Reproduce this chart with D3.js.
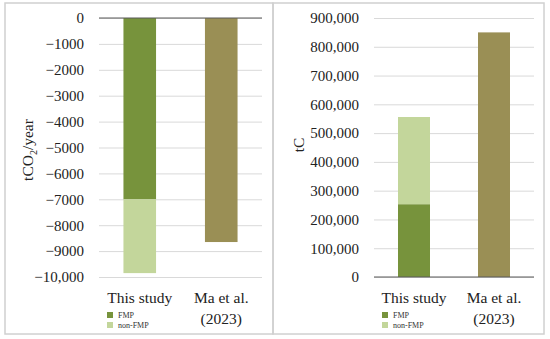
<!DOCTYPE html>
<html>
<head>
<meta charset="utf-8">
<script src="https://cdn.jsdelivr.net/npm/d3@7"></script>
<style>
  body { margin: 0; background: #fff; }
  svg { display: block; }
</style>
</head>
<body>
<svg width="550" height="339"></svg>
<script>
// categories and series
const categories = ['This study', 'Ma et al.'];
const catLines = [['This study'], ['Ma et al.', '(2023)']];
const seriesNames = ['FMP', 'non-FMP'];

// left panel: tCO2/year
const fluxFMP = [-7000, 0];
const fluxNonFMP = [-2850, 0];
const fluxMa = [0, -8650];
const fluxTicks = [0, -1000, -2000, -3000, -4000, -5000, -6000, -7000, -8000, -9000, -10000];

// right panel: tC
const stockFMP = [253000, 0];
const stockNonFMP = [303000, 0];
const stockMa = [0, 850000];
const stockTicks = [0, 100000, 200000, 300000, 400000, 500000, 600000, 700000, 800000, 900000];

const colors = { 'FMP': '#77933c', 'non-FMP': '#c3d69b', 'Ma': '#9a8f55' };
const serif = "'Liberation Serif', 'Times New Roman', 'DejaVu Serif', serif";

const svg = d3.select('svg');

// panel frames
svg.append('rect')
  .attr('x', 5).attr('y', 3)
  .attr('width', 268).attr('height', 331)
  .attr('fill', 'none').attr('stroke', '#d0d0d0').attr('stroke-width', 1.5);
svg.append('rect')
  .attr('x', 273).attr('y', 3)
  .attr('width', 271).attr('height', 331)
  .attr('fill', 'none').attr('stroke', '#d0d0d0').attr('stroke-width', 1.5);

const drawPanel = function (opt) {
  const g = svg.append('g');

  const x = d3.scaleBand()
    .domain(categories)
    .range([opt.x0, opt.x1])
    .paddingInner(0.6)
    .paddingOuter(0.3);

  const y = d3.scaleLinear()
    .domain(opt.domain)
    .range([opt.yBottom, opt.yTop]);

  // gridlines + tick labels
  const axisY = d3.axisLeft(y)
    .tickValues(opt.ticks)
    .tickSizeInner(-(opt.x1 - opt.x0))
    .tickSizeOuter(0)
    .tickPadding(15)
    .tickFormat(opt.format);

  g.append('g')
    .attr('transform', `translate(${opt.x0}, 0)`)
    .call(axisY)
    .attr('font-family', null)
    .attr('font-size', null)
    .call(a => a.select('.domain').remove())
    .call(a => a.selectAll('.tick line').attr('stroke', '#d9d9d9'))
    .call(a => a.selectAll('.tick text')
      .style('font-family', serif)
      .style('font-size', '15px')
      .attr('fill', '#222'));

  // stacked bars for this study
  const stack = d3.stack().keys(seriesNames)(
    categories.map((c, i) => ({ cat: c, 'FMP': opt.fmp[i], 'non-FMP': opt.nonFmp[i] }))
  );

  stack.forEach(layer => {
    g.selectAll(null)
      .data(layer.filter(d => d[1] !== d[0]))
      .enter()
      .append('rect')
      .attr('x', d => x(d.data.cat))
      .attr('width', x.bandwidth())
      .attr('y', d => Math.min(y(d[0]), y(d[1])))
      .attr('height', d => Math.abs(y(d[0]) - y(d[1])))
      .attr('fill', colors[layer.key]);
  });

  // Ma et al. bar
  g.selectAll(null)
    .data(categories.map((c, i) => ({ cat: c, v: opt.ma[i] })).filter(d => d.v !== 0))
    .enter()
    .append('rect')
    .attr('x', d => x(d.cat))
    .attr('width', x.bandwidth())
    .attr('y', d => Math.min(y(0), y(d.v)))
    .attr('height', d => Math.abs(y(d.v) - y(0)))
    .attr('fill', colors.Ma);

  // zero line
  g.append('line')
    .attr('x1', opt.x0).attr('x2', opt.x1)
    .attr('y1', y(0)).attr('y2', y(0))
    .attr('stroke', '#595959').attr('stroke-width', 1);

  // category labels
  catLines.forEach((lines, i) => {
    const cx = x(categories[i]) + x.bandwidth() / 2;
    lines.forEach((t, j) => {
      g.append('text')
        .attr('x', cx)
        .attr('y', 303 + j * 21)
        .attr('text-anchor', 'middle')
        .style('font-family', serif)
        .style('font-size', '15.5px')
        .attr('fill', '#222')
        .text(t);
    });
  });

  // legend
  seriesNames.forEach((s, i) => {
    g.append('rect')
      .attr('x', opt.legendX)
      .attr('y', 312 + i * 10)
      .attr('width', 6).attr('height', 6)
      .attr('fill', colors[s]);
    g.append('text')
      .attr('x', opt.legendX + 11)
      .attr('y', 318 + i * 10)
      .style('font-family', serif)
      .style('font-size', '8px')
      .attr('fill', '#333')
      .text(s);
  });

  // axis title
  const title = g.append('text')
    .attr('transform', `translate(${opt.titleX}, ${opt.titleY}) rotate(-90)`)
    .attr('text-anchor', 'middle')
    .style('font-family', serif)
    .style('font-size', '15.5px')
    .attr('fill', '#222');
  opt.title(title);
};

drawPanel({
  x0: 99, x1: 262, yTop: 18, yBottom: 277,
  domain: [-10000, 0], ticks: fluxTicks,
  format: d => d === -10000 ? '\u221210,000' : (d < 0 ? '\u2212' + Math.abs(d) : d),
  fmp: fluxFMP, nonFmp: fluxNonFMP, ma: fluxMa,
  legendX: 107, titleX: 33, titleY: 150,
  title: t => {
    t.append('tspan').text('tCO');
    t.append('tspan').style('font-size', '10px').attr('dy', 4).text('2');
    t.append('tspan').attr('dy', -4).text('/year');
  }
});

drawPanel({
  x0: 374, x1: 534, yTop: 18, yBottom: 277,
  domain: [0, 900000], ticks: stockTicks,
  format: d3.format(','),
  fmp: stockFMP, nonFmp: stockNonFMP, ma: stockMa,
  legendX: 382, titleX: 304, titleY: 145,
  title: t => t.text('tC')
});
</script>
</body>
</html>
